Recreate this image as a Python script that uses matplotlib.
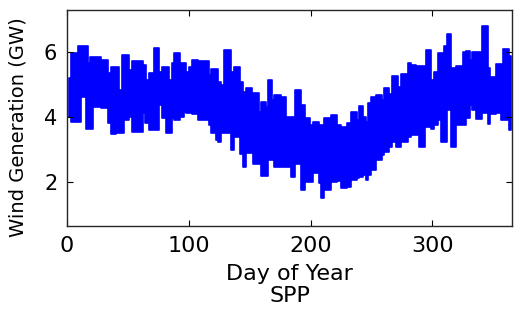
import matplotlib
matplotlib.use("Agg")
import matplotlib.pyplot as plt

# Day of year (start of each block) and daily min / max wind generation (GW)
day = [1.4, 3.3, 8.8, 11.5, 15.6, 17.0, 18.9, 21.1, 27.9, 33.4, 36.2, 40.3, 43.0, 45.2,
       47.1, 51.2, 53.4, 62.2, 64.3, 64.9, 67.6, 71.2, 75.3, 77.8, 81.3, 83.6, 86.3, 88.2,
       92.9, 96.4, 97.8, 100.0, 102.7, 107.4, 108.2, 116.4, 118.3, 122.4, 123.8, 126.5,
       129.3, 134.8, 137.5, 142.2, 144.4, 147.1, 151.8, 153.1, 157.5, 159.4, 163.5, 164.9,
       168.4, 170.3, 175.8, 179.9, 184.1, 187.6, 192.3, 195.8, 199.7, 201.9, 206.8, 208.7,
       211.4, 216.9, 221.6, 225.1, 229.8, 233.4, 238.0, 239.7, 243.0, 245.7, 247.1, 249.8,
       253.9, 258.8, 260.7, 264.3, 267.0, 270.3, 271.7, 274.4, 279.9, 282.7, 286.8, 289.5,
       294.2, 295.0, 299.1, 301.8, 304.6, 307.3, 310.0, 312.0, 315.5, 319.6, 325.1, 327.9,
       331.1, 332.8, 336.1, 341.0, 345.7, 347.6, 352.5, 356.6, 358.5, 362.9, 364.8]

gen_max = [5.20, 5.97, 6.19, 6.19, 6.19, 5.66, 5.86, 5.86, 5.76, 5.35, 5.56, 5.56, 4.84, 5.92,
           5.92, 5.45, 5.74, 5.61, 5.61, 5.15, 5.35, 6.15, 5.40, 5.54, 5.54, 5.15, 5.66, 5.99,
           5.68, 5.68, 5.40, 5.54, 5.76, 5.35, 5.73, 5.30, 5.48, 5.48, 5.09, 4.99,
           6.09, 5.40, 5.54, 5.09, 4.78, 4.89, 4.53, 4.75, 4.17, 4.48, 4.32, 5.15,
           4.53, 4.70, 4.61, 4.01, 4.01, 4.84, 4.37, 3.96, 3.76, 3.86, 3.76, 3.76,
           3.99, 4.07, 3.76, 3.70, 3.81, 4.17, 3.91, 4.35, 4.01, 3.86, 4.43, 4.61,
           4.68, 4.53, 4.89, 4.73, 5.27, 5.27, 4.94, 5.33, 5.68, 5.61, 5.58, 5.58,
           5.58, 6.07, 5.15, 5.40, 5.99, 5.99, 6.19, 6.56, 5.51, 5.58, 6.02, 6.05,
           5.76, 6.02, 6.02, 6.81, 5.51, 5.25, 5.64, 5.64, 6.12, 5.89, 5.89]

gen_min = [4.01, 3.86, 3.86, 4.63, 3.62, 3.62, 3.62, 4.32, 4.28, 3.82, 3.48, 3.50, 3.50, 3.50,
           3.91, 4.01, 3.55, 4.13, 3.81, 3.81, 3.60, 3.60, 4.37, 3.96, 3.50, 3.50, 3.96, 3.91,
           4.01, 4.17, 4.12, 4.12, 4.10, 3.91, 3.91, 3.76, 3.50, 3.29, 3.24, 3.50,
           3.50, 2.98, 3.40, 2.86, 2.47, 2.88, 2.88, 2.55, 2.55, 2.18, 2.18, 2.68,
           2.68, 2.47, 2.47, 2.45, 2.16, 2.55, 1.75, 2.01, 2.01, 2.27, 1.96, 1.49,
           1.75, 2.01, 2.04, 1.80, 1.85, 2.06, 2.11, 2.16, 2.21, 2.06, 2.21, 2.37,
           2.68, 2.83, 2.93, 3.09, 3.24, 3.07, 3.07, 3.24, 3.40, 3.45, 3.45, 3.09,
           3.96, 3.70, 3.62, 3.76, 3.91, 3.24, 3.24, 4.22, 3.07, 3.76, 3.76, 3.99,
           4.37, 4.22, 3.93, 4.12, 3.79, 4.10, 4.12, 3.91, 3.91, 3.60, 3.60]

x_ticks = [0, 100, 200, 300]
y_ticks = [2, 4, 6]

plt.rcParams['font.family'] = ['DejaVu Sans']

fig = plt.figure(figsize=(5.29, 3.18), dpi=100)
ax = fig.add_axes([67 / 529, (318 - 226) / 318, 445 / 529, 216 / 318])

ax.fill_between(day, gen_min, gen_max, step='post', color='#0000ff',
                edgecolor='#0000ff', linewidth=1.2)

ax.set_xlim(0, 365.5)
ax.set_ylim(0.64, 7.31)
ax.set_xticks(x_ticks)
ax.set_yticks(y_ticks)
ax.tick_params(direction='in', length=4, width=0.8, top=True, right=True,
               colors='#000000')
ax.tick_params(axis='x', labelsize=16, pad=7)
ax.tick_params(axis='y', labelsize=15, pad=7)
for s in ax.spines.values():
    s.set_linewidth(1.0)
    s.set_color('#262626')

ax.set_xlabel('Day of Year\nSPP', fontsize=16, linespacing=1.15, labelpad=6)
ax.set_ylabel('Wind Generation (GW)', fontsize=14)
ax.yaxis.set_label_coords(-0.088, 0.46)

fig.savefig('out.png', dpi=100)
